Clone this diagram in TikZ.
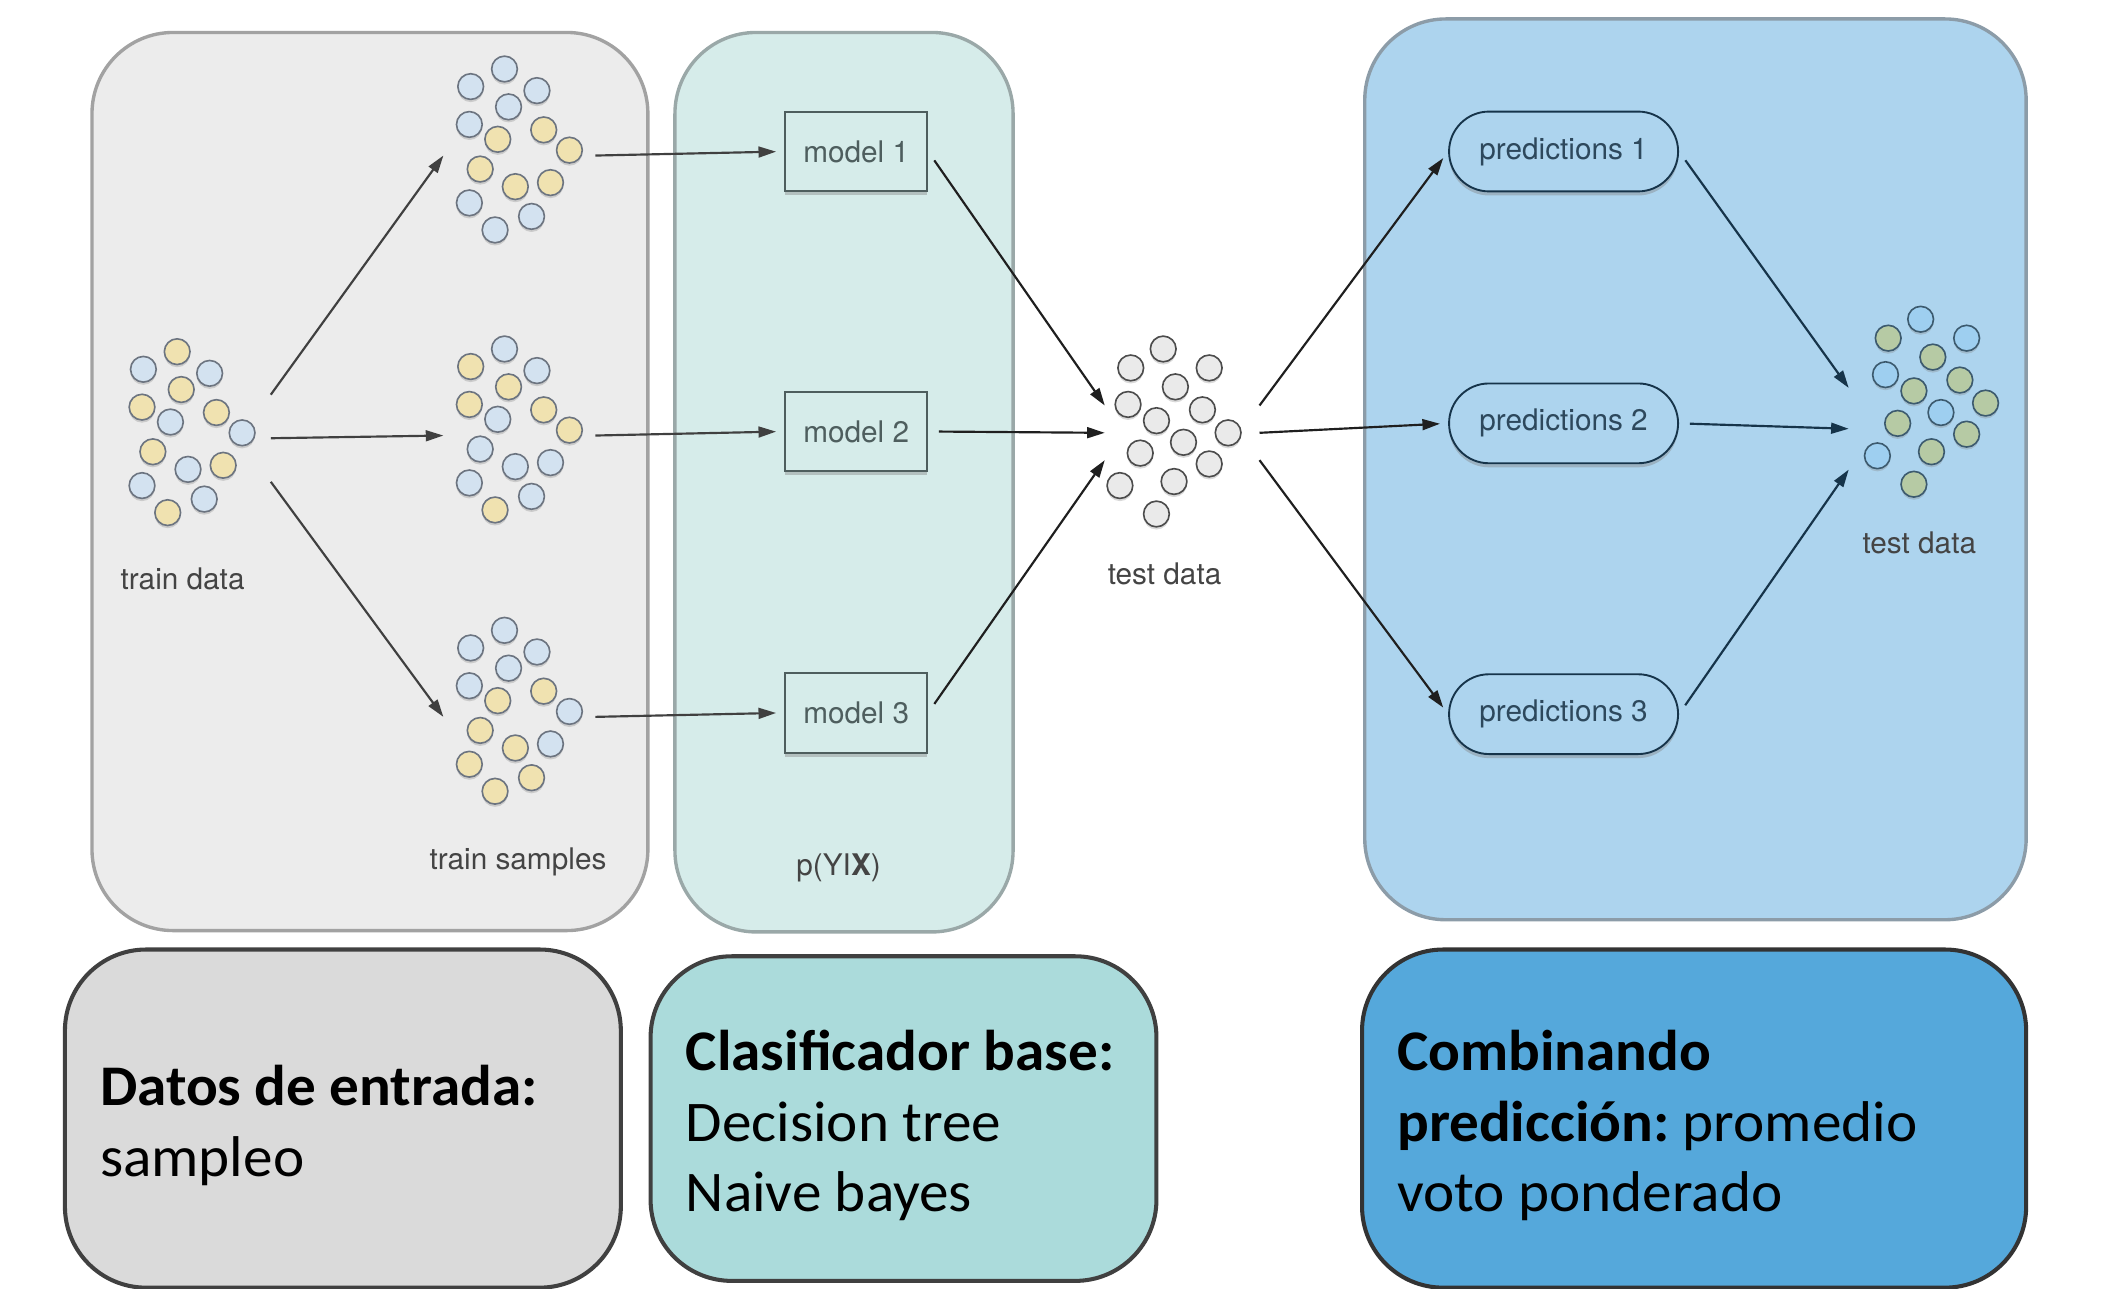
\documentclass[tikz,border=0pt]{standalone}
\usepackage{fontspec}
\setmainfont{Carlito}[FakeStretch=1.03]
\newfontfamily\helv{TeX Gyre Heros}
\usetikzlibrary{arrows.meta,calc,shapes.misc,shadows}

\definecolor{trainfill}{HTML}{ECECEC}
\definecolor{trainline}{HTML}{A2A2A2}
\definecolor{basefill}{HTML}{D6ECEA}
\definecolor{baseline}{HTML}{9AA8A8}
\definecolor{combfill}{HTML}{ADD4EE}
\definecolor{combline}{HTML}{8C9CA8}
\definecolor{dotblue}{HTML}{D3E2F0}
\definecolor{dotyellow}{HTML}{F0E2B0}
\definecolor{dotline}{HTML}{6C7480}
\definecolor{testfill}{HTML}{EAEAEA}
\definecolor{predblue}{HTML}{9ECFF0}
\definecolor{predgreen}{HTML}{B6CAA4}
\definecolor{predline}{HTML}{3C5A6E}
\definecolor{modelline}{HTML}{4E5E5E}
\definecolor{navy}{HTML}{16344A}
\definecolor{labelgray}{HTML}{444444}
\definecolor{datosfill}{HTML}{DADADA}
\definecolor{clasiffill}{HTML}{ABDBDB}
\definecolor{combinafill}{HTML}{55A8DB}

% offsets of the 14 dots of a cluster
\def\samplepattern{-11/-64,-36/-51,13/-48,-8/-36,-37/-23,-16/-12,18/-19,37/-4,-29/10,-3/23,23/20,-37/35,9/45,-18/55}
\def\testpattern{-6/-62,-30/-48,28/-48,3/-34,-32/-21,23/-17,-11/-9,42/0,9/7,-23/15,28/23,2/36,-38/39,-11/60}

% #1 centre, #2 offsets, #3 colours, #4 border
\newcommand{\dotcluster}[4]{%
  \foreach \dx/\dy [count=\i] in #2 {
    \pgfmathparse{{#3}[\i-1]}
    \edef\dotcol{\pgfmathresult}
    \node[dot=#4, fill=\dotcol] at ($(#1)+(\dx,\dy)$) {};
  }
}

\tikzset{
  panel/.style={line width=2.5pt, rounded corners=60pt},
  summary/.style={draw, line width=3pt, rounded corners=60pt, align=flush left,
    inner xsep=26pt, font=\fontsize{42.5}{52}\selectfont\frenchspacing,
    execute at begin node={\rule{0pt}{40pt}}},
  dot/.style={circle, draw=#1, line width=1.2pt, minimum size=19pt, inner sep=0pt,
    drop shadow={shadow xshift=0pt, shadow yshift=-2pt, opacity=.3}},
  hub/.style={rectangle, inner sep=0pt},
  label/.style={anchor=base, text=labelgray, font=\helv\fontsize{22}{26}\selectfont},
  modelbox/.style={rectangle, draw=modelline, line width=1.4pt, fill=basefill,
    minimum width=105pt, minimum height=59pt, text=modelline,
    font=\helv\fontsize{22}{26}\selectfont,
    drop shadow={shadow xshift=0pt, shadow yshift=-3pt, opacity=.4}},
  predbox/.style={rounded rectangle, draw=navy, line width=1.4pt, fill=combfill,
    minimum width=176pt, minimum height=59pt, text=navy!90,
    font=\helv\fontsize{22}{26}\selectfont,
    drop shadow={shadow xshift=0pt, shadow yshift=-3pt, opacity=.4}},
  arr/.style={-{Triangle[length=13pt,width=8pt]}, line width=1.6pt}
}

\begin{document}
\begin{tikzpicture}[x=1pt,y=-1pt]
\useasboundingbox (0,0) rectangle (1560,953);

% Panels
\draw[panel, draw=trainline, fill=trainfill] (68,24) rectangle (479,688);
\draw[panel, draw=baseline, fill=basefill] (499,24) rectangle (749,689);
\draw[panel, draw=combline, fill=combfill] (1009,14) rectangle (1498,680);

% Dot clusters
\dotcluster{142,324}{\samplepattern}{"dotyellow","dotblue","dotblue","dotyellow","dotyellow","dotblue","dotyellow","dotblue","dotyellow","dotblue","dotyellow","dotblue","dotblue","dotyellow"}{dotline}
\dotcluster{384,115}{\samplepattern}{"dotblue","dotblue","dotblue","dotblue","dotblue","dotyellow","dotyellow","dotyellow","dotyellow","dotyellow","dotyellow","dotblue","dotblue","dotblue"}{dotline}
\dotcluster{384,322}{\samplepattern}{"dotblue","dotyellow","dotblue","dotyellow","dotyellow","dotblue","dotyellow","dotyellow","dotblue","dotblue","dotblue","dotblue","dotblue","dotyellow"}{dotline}
\dotcluster{384,530}{\samplepattern}{"dotblue","dotblue","dotblue","dotblue","dotblue","dotyellow","dotyellow","dotblue","dotyellow","dotyellow","dotblue","dotyellow","dotyellow","dotyellow"}{dotline}
\dotcluster{866,320}{\testpattern}{"testfill","testfill","testfill","testfill","testfill","testfill","testfill","testfill","testfill","testfill","testfill","testfill","testfill","testfill"}{black!70}
\dotcluster{1426,298}{\testpattern}{"predblue","predgreen","predblue","predgreen","predblue","predgreen","predgreen","predgreen","predblue","predgreen","predgreen","predgreen","predblue","predgreen"}{predline}

% Hubs for the connectors
\node[hub, minimum width=116pt, minimum height=64pt] (train) at (142,324) {};
\node[hub, minimum width=112pt] (samp1) at (384,115) {};
\node[hub, minimum width=112pt] (samp2) at (384,322) {};
\node[hub, minimum width=112pt] (samp3) at (384,530) {};
\node[hub, minimum width=114pt, minimum height=40pt] (test) at (874,320) {};
\node[hub, minimum width=120pt, minimum height=60pt] (result) at (1427,317) {};

% Labels
\node[label] (trainlbl) at (135,435.6) {train data};
\node[label] (samplbl) at (383,643) {train samples};
\node[label] (baselbl) at (620,647) {p(YI\textbf{X})};
\node[label] (testlbl) at (861,432) {test data};
\node[label] (resultlbl) at (1419,409.5) {test data};

% Models and predictions
\node[modelbox] (model1) at (633,112) {model 1};
\node[modelbox] (model2) at (633,319) {model 2};
\node[modelbox] (model3) at (633,527) {model 3};
\node[predbox] (pred1) at (1156,112) {predictions 1};
\node[predbox] (pred2) at (1156,313) {predictions 2};
\node[predbox] (pred3) at (1156,528) {predictions 3};

% Arrows
\begin{scope}[arr, draw=black!75]
\draw (train.north east) -- (samp1.west);
\draw (train.east) -- (samp2.west);
\draw (train.south east) -- (samp3.west);
\foreach \i in {1,2,3}
  \draw[shorten >=6pt] (samp\i.east) -- (model\i.west);
\end{scope}
\begin{scope}[arr, draw=black!88]
\draw[shorten <=8pt] (model1.east) -- (test.north west);
\draw[shorten <=8pt] (model2.east) -- (test.west);
\draw[shorten <=8pt] (model3.east) -- (test.south west);
\draw[shorten >=6pt] (test.north east) -- (pred1.west);
\draw[shorten >=6pt] (test.east) -- (pred2.west);
\draw[shorten >=6pt] (test.south east) -- (pred3.west);
\end{scope}
\begin{scope}[arr, draw=navy]
\draw[shorten <=8pt] (pred1.east) -- (result.north west);
\draw[shorten <=8pt] (pred2.east) -- (result.west);
\draw[shorten <=8pt] (pred3.east) -- (result.south west);
\end{scope}

% Summary boxes
\node[summary, fill=datosfill, draw=black!75, text width=359pt, minimum height=250pt] (datos) at (253.5,827)
  {\textbf{Datos de entrada:}\\sampleo};
\node[summary, fill=clasiffill, draw=black!75, text width=322pt, minimum height=240pt] (clasif) at (668,827)
  {\textbf{Clasificador base:}\\Decision tree\\Naive bayes};
\node[summary, fill=combinafill, draw=black!80, text width=439pt, minimum height=250pt] (combina) at (1252.5,827)
  {\textbf{Combinando}\\\textbf{predicción:} promedio\\voto ponderado};

\end{tikzpicture}
\end{document}
